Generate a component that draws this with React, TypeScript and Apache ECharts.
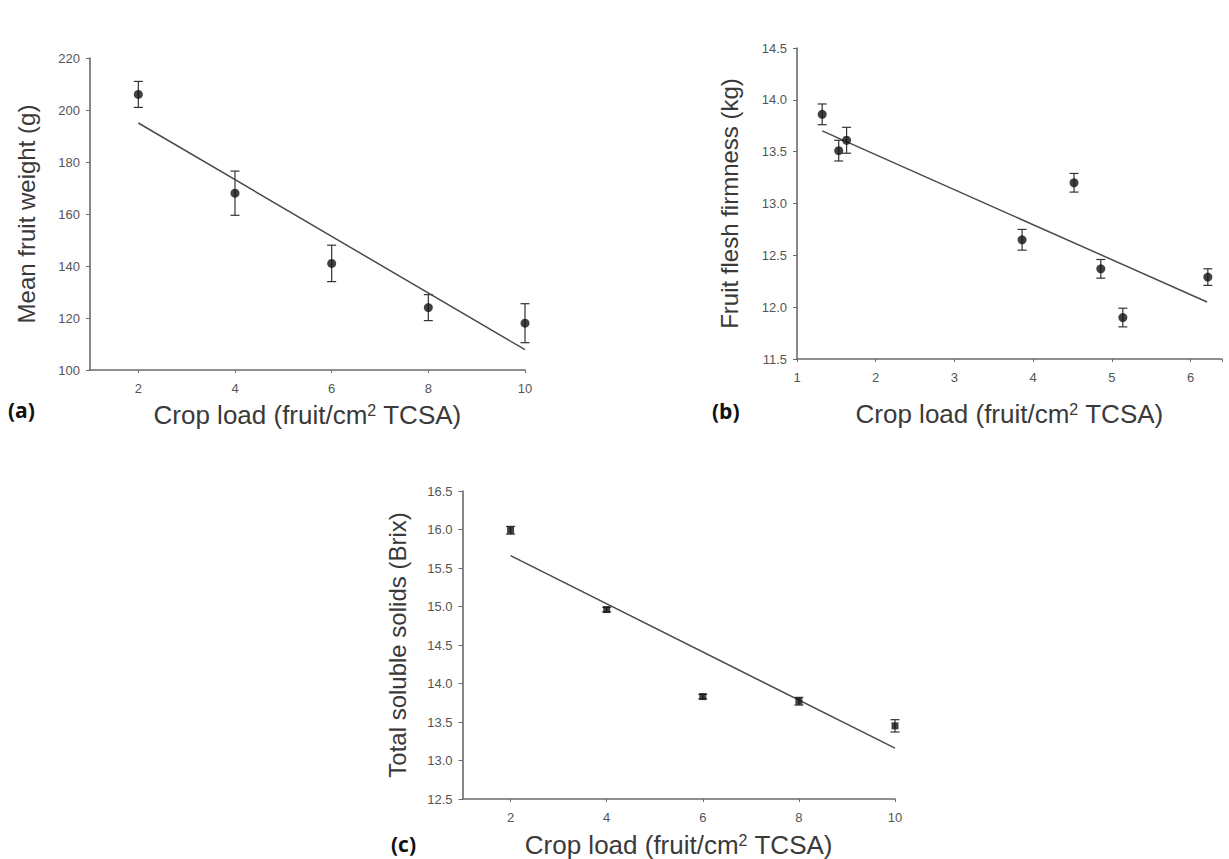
import React, { useEffect, useRef } from "react";
import * as echarts from "echarts";

// Panel (a): mean fruit weight vs crop load
const loadA = [2, 4, 6, 8, 10];
const weightA = [206, 168, 141, 124, 118];
const errA = [5, 8.5, 7, 5, 7.5];
const fitAX = [2, 10];
const fitAY = [195, 107.8];

// Panel (b): fruit flesh firmness vs crop load
const loadB = [1.32, 1.53, 1.63, 3.86, 4.52, 4.86, 5.14, 6.22];
const firmB = [13.86, 13.51, 13.61, 12.65, 13.2, 12.37, 11.9, 12.29];
const errB = [0.1, 0.1, 0.125, 0.1, 0.09, 0.09, 0.09, 0.08];
const fitBX = [1.32, 6.21];
const fitBY = [13.7, 12.05];

// Panel (c): total soluble solids vs crop load
const loadC = [2, 4, 6, 8, 10];
const tssC = [15.99, 14.96, 13.83, 13.77, 13.45];
const errC = [0.05, 0.03, 0.03, 0.05, 0.08];
const fitCX = [2, 10];
const fitCY = [15.66, 13.16];

const xTicksAC = [2, 4, 6, 8, 10];
const xTitle = "Crop load (fruit/cm{sup|2} TCSA)";
const yTitleA = "Mean fruit weight (g)";
const yTitleB = "Fruit flesh firmness (kg)";
const yTitleC = "Total soluble solids (Brix)";

const FONT = '"Liberation Sans", Arial, sans-serif';
const AXIS_COLOR = "#6a6a6a";
const LABEL_COLOR = "#555";
const TITLE_COLOR = "#3a3a3a";

const errRender = (params: any, api: any) => {
  const x = api.value(0);
  const lo = api.coord([x, api.value(1)]);
  const hi = api.coord([x, api.value(2)]);
  const w = 4.5;
  const st = { stroke: "#333", lineWidth: 1.2 };
  return {
    type: "group",
    children: [
      { type: "line", shape: { x1: lo[0], y1: lo[1], x2: hi[0], y2: hi[1] }, style: st },
      { type: "line", shape: { x1: lo[0] - w, y1: lo[1], x2: lo[0] + w, y2: lo[1] }, style: st },
      { type: "line", shape: { x1: hi[0] - w, y1: hi[1], x2: hi[0] + w, y2: hi[1] }, style: st },
    ],
  };
};

const xAxisBase = (gridIndex: number, min: number, max: number, nameGap: number, extra: any) => ({
  type: "value",
  gridIndex,
  min,
  max,
  name: xTitle,
  nameLocation: "middle",
  nameGap,
  nameTextStyle: {
    fontFamily: FONT,
    fontSize: 26,
    color: TITLE_COLOR,
    rich: {
      sup: { fontFamily: FONT, fontSize: 16, color: TITLE_COLOR, verticalAlign: "top", lineHeight: 26 },
    },
  },
  splitLine: { show: false },
  axisLine: { show: true, onZero: false, lineStyle: { color: AXIS_COLOR, width: 1.6 } },
  axisTick: { show: true, length: 3, lineStyle: { color: AXIS_COLOR } },
  axisLabel: { fontFamily: FONT, fontSize: 13, color: LABEL_COLOR, margin: 12 },
  ...extra,
});

const yAxisBase = (gridIndex: number, min: number, max: number, interval: number, name: string, nameGap: number, decimals: number) => ({
  type: "value",
  gridIndex,
  min,
  max,
  interval,
  name,
  nameLocation: "middle",
  nameGap,
  nameTextStyle: { fontFamily: FONT, fontSize: 24, color: TITLE_COLOR },
  splitLine: { show: false },
  axisLine: { show: true, onZero: false, lineStyle: { color: AXIS_COLOR, width: 1.6 } },
  axisTick: { show: true, length: 4, lineStyle: { color: AXIS_COLOR } },
  axisLabel: {
    fontFamily: FONT,
    fontSize: 13,
    color: LABEL_COLOR,
    margin: 10,
    formatter: (v: number) => v.toFixed(decimals),
  },
});

const pairs = (xs: number[], ys: number[]) => xs.map((x, i) => [x, ys[i]]);
const errData = (xs: number[], ys: number[], es: number[]) => xs.map((x, i) => [x, ys[i] - es[i], ys[i] + es[i]]);

export default function App() {
  const ref = useRef<HTMLDivElement>(null);
  useEffect(() => {
    if (!ref.current) return;
    const chart = echarts.init(ref.current, null, { renderer: "svg" });
    const option: any = {
      animation: false,
      backgroundColor: "#ffffff",
      grid: [
        { left: 90, top: 58, width: 435, height: 312 },
        { left: 797, top: 48, width: 425, height: 311 },
        { left: 462.5, top: 491, width: 432.5, height: 309 },
      ],
      xAxis: [
        xAxisBase(0, 1, 10, 32, {
          axisTick: { show: true, length: 3, customValues: xTicksAC, lineStyle: { color: AXIS_COLOR } },
          axisLabel: { fontFamily: FONT, fontSize: 13, color: LABEL_COLOR, margin: 12, customValues: xTicksAC },
        }),
        xAxisBase(1, 1, 6.4, 42, { interval: 1, axisLabel: { fontFamily: FONT, fontSize: 13, color: LABEL_COLOR, margin: 12, formatter: (v: number) => (v <= 6 ? String(v) : "") } }),
        xAxisBase(2, 1, 10, 33, {
          axisTick: { show: true, length: 3, customValues: xTicksAC, lineStyle: { color: AXIS_COLOR } },
          axisLabel: { fontFamily: FONT, fontSize: 13, color: LABEL_COLOR, margin: 12, customValues: xTicksAC },
        }),
      ],
      yAxis: [
        yAxisBase(0, 100, 220, 20, yTitleA, 52, 0),
        yAxisBase(1, 11.5, 14.5, 0.5, yTitleB, 56, 1),
        yAxisBase(2, 12.5, 16.5, 0.5, yTitleC, 53, 1),
      ],
      graphic: [
        { type: "text", left: 8, top: 399, style: { text: "(a)", font: 'bold 21px "Open Sans"', fill: "#111" } },
        { type: "text", left: 712, top: 400, style: { text: "(b)", font: 'bold 21px "Open Sans"', fill: "#111" } },
        { type: "text", left: 391, top: 833, style: { text: "(c)", font: 'bold 21px "Open Sans"', fill: "#111" } },
      ],
      series: [
        // Panel (a)
        { type: "line", xAxisIndex: 0, yAxisIndex: 0, data: pairs(fitAX, fitAY), symbol: "none", lineStyle: { color: "#4a4a4a", width: 1.5 } },
        { type: "custom", xAxisIndex: 0, yAxisIndex: 0, data: errData(loadA, weightA, errA), renderItem: errRender, z: 3 },
        { type: "scatter", xAxisIndex: 0, yAxisIndex: 0, data: pairs(loadA, weightA), symbol: "circle", symbolSize: 9, itemStyle: { color: "#111" }, z: 4 },
        // Panel (b)
        { type: "line", xAxisIndex: 1, yAxisIndex: 1, data: pairs(fitBX, fitBY), symbol: "none", lineStyle: { color: "#4a4a4a", width: 1.5 } },
        { type: "custom", xAxisIndex: 1, yAxisIndex: 1, data: errData(loadB, firmB, errB), renderItem: errRender, z: 3 },
        { type: "scatter", xAxisIndex: 1, yAxisIndex: 1, data: pairs(loadB, firmB), symbol: "circle", symbolSize: 9, itemStyle: { color: "#111" }, z: 4 },
        // Panel (c)
        { type: "line", xAxisIndex: 2, yAxisIndex: 2, data: pairs(fitCX, fitCY), symbol: "none", lineStyle: { color: "#4a4a4a", width: 1.5 } },
        { type: "custom", xAxisIndex: 2, yAxisIndex: 2, data: errData(loadC, tssC, errC), renderItem: errRender, z: 3 },
        { type: "scatter", xAxisIndex: 2, yAxisIndex: 2, data: pairs(loadC, tssC), symbol: "rect", symbolSize: 7, itemStyle: { color: "#111" }, z: 4 },
      ],
    };
    chart.setOption(option);
    return () => chart.dispose();
  }, []);
  return (
    <div
      ref={ref}
      style={{ position: "fixed", left: 0, top: 0, width: 1229, height: 859, background: "#fff" }}
    />
  );
}
